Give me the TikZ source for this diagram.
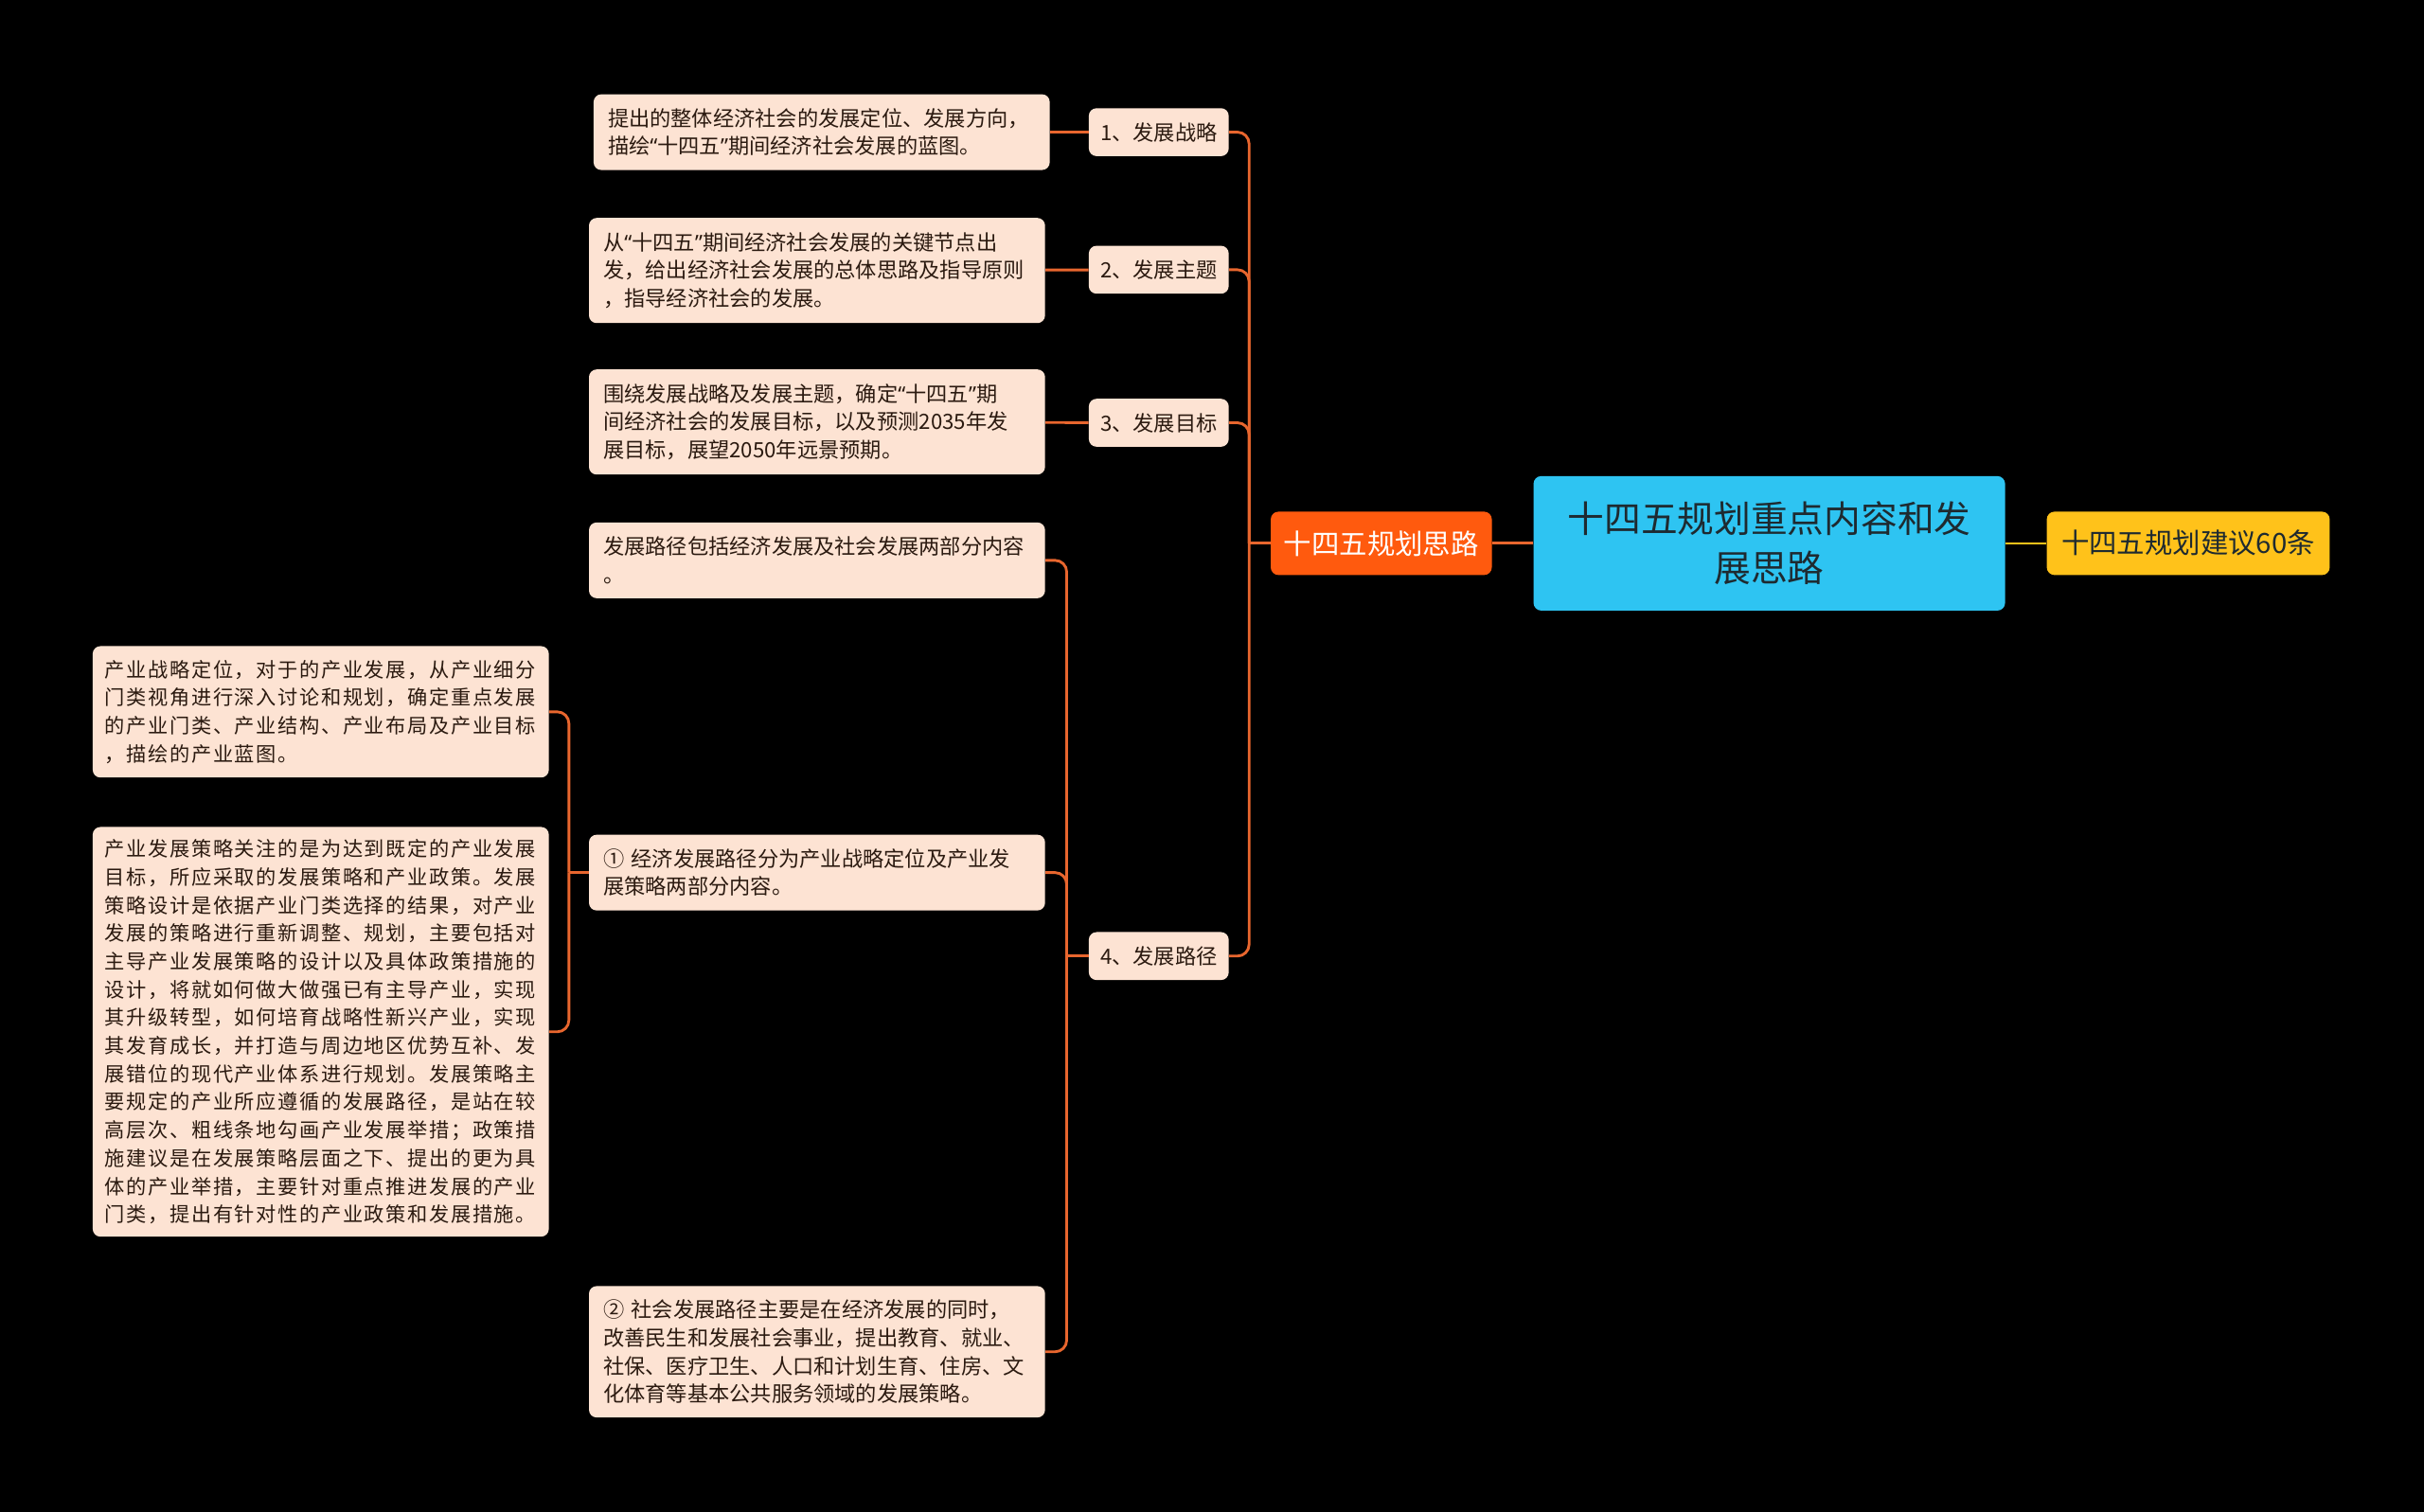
\documentclass[tikz,border=0pt]{standalone}
\usepackage{fontspec}
\setmainfont{Noto Sans CJK SC}
\newfontfamily\widecjk[LetterSpace=7.5]{Noto Sans CJK SC}
\newfontfamily\quotefont{Noto Sans}
\newcommand{\qopen}{{\quotefont “}}
\newcommand{\qclose}{{\quotefont ”}}
\usetikzlibrary{calc,positioning}
\definecolor{bgblack}{HTML}{000000}
\definecolor{peach}{HTML}{FDE3D3}
\definecolor{inkbrown}{HTML}{2B1A10}
\definecolor{linkorange}{HTML}{E8662E}
\definecolor{planorange}{HTML}{FF5A0E}
\definecolor{rootcyan}{HTML}{2EC4F2}
\definecolor{adviceyellow}{HTML}{FFC21A}
\definecolor{rootink}{HTML}{1E2A30}
\tikzset{%
    topic/.style={%
        rectangle, rounded corners=0.2cm, fill=peach, text=inkbrown, inner sep=0pt
    },
    detail/.style={%
        topic, align=left, font=\fontsize{15.5pt}{20.7pt}\selectfont, text width=11.06cm, minimum width=11.8cm
    },
    longdetail/.style={%
        topic, align=left, font=\widecjk\fontsize{14.8pt}{20.7pt}\selectfont, text width=11.16cm, minimum width=11.8cm
    },
    itemhead/.style={%
        topic, font=\fontsize{15.5pt}{18pt}\selectfont, minimum width=3.62cm, minimum height=1.24cm, anchor=east
    },
    mainhead/.style={%
        rectangle, rounded corners=0.2cm, inner sep=0pt, font=\fontsize{20.5pt}{24pt}\selectfont, minimum height=1.64cm
    },
    link/.style={%
        draw=linkorange, line width=2pt, rounded corners=0.3cm
    },
}
\begin{document}
\begin{tikzpicture}[x=0.04cm, y=-0.04cm]
    \fill[bgblack] (0,0) rectangle (1568,978);
    \useasboundingbox (0,0) rectangle (1568,978);

    \node[rectangle, rounded corners=0.2cm, fill=rootcyan, text=rootink, align=center, font=\fontsize{27pt}{36.4pt}\selectfont, minimum width=12.2cm, minimum height=3.48cm] (root) at (1144.5,351.5) {十四五规划重点内容和发\\展思路};
    \node[mainhead, fill=planorange, text=white, minimum width=5.72cm] (plan) at (893.5,351.5) {十四五规划思路};
    \node[mainhead, fill=adviceyellow, text=rootink, minimum width=7.32cm] (advice) at (1415.5,351.5) {十四五规划建议60条};

    \node[itemhead] (strategy) at (795,85.5) {1、发展战略};
    \node[itemhead] (theme) at (795,174.5) {2、发展主题};
    \node[itemhead] (goal) at (795,273.5) {3、发展目标};
    \node[itemhead] (path) at (795,618.5) {4、发展路径};

    \node[detail, minimum height=1.96cm] (strategytxt) at (531.5,85.5) {提出的整体经济社会的发展定位、发展方向，\\描绘\qopen 十四五\qclose 期间经济社会发展的蓝图。};
    \node[detail, minimum height=2.72cm] (themetxt) at (528.5,175) {从\qopen 十四五\qclose 期间经济社会发展的关键节点出\\发，给出经济社会发展的总体思路及指导原则\\，指导经济社会的发展。};
    \node[detail, minimum height=2.72cm] (goaltxt) at (528.5,273) {围绕发展战略及发展主题，确定\qopen 十四五\qclose 期\\间经济社会的发展目标，以及预测2035年发\\展目标，展望2050年远景预期。};
    \node[detail, minimum height=1.96cm] (routetxt) at (528.5,362.5) {发展路径包括经济发展及社会发展两部分内容\\。};
    \node[detail, minimum height=1.96cm] (econtxt) at (528.5,564.5) {① 经济发展路径分为产业战略定位及产业发\\展策略两部分内容。};
    \node[detail, minimum height=3.4cm] (socialtxt) at (528.5,874.5) {② 社会发展路径主要是在经济发展的同时，\\改善民生和发展社会事业，提出教育、就业、\\社保、医疗卫生、人口和计划生育、住房、文\\化体育等基本公共服务领域的发展策略。};

    \node[longdetail, minimum height=3.4cm] (industrytxt) at (207.5,460.5) {产业战略定位，对于的产业发展，从产业细分\\门类视角进行深入讨论和规划，确定重点发展\\的产业门类、产业结构、产业布局及产业目标\\，描绘的产业蓝图。};
    \node[longdetail, minimum height=10.6cm] (policytxt) at (207.5,667.5) {产业发展策略关注的是为达到既定的产业发展\\目标，所应采取的发展策略和产业政策。发展\\策略设计是依据产业门类选择的结果，对产业\\发展的策略进行重新调整、规划，主要包括对\\主导产业发展策略的设计以及具体政策措施的\\设计，将就如何做大做强已有主导产业，实现\\其升级转型，如何培育战略性新兴产业，实现\\其发育成长，并打造与周边地区优势互补、发\\展错位的现代产业体系进行规划。发展策略主\\要规定的产业所应遵循的发展路径，是站在较\\高层次、粗线条地勾画产业发展举措；政策措\\施建议是在发展策略层面之下、提出的更为具\\体的产业举措，主要针对重点推进发展的产业\\门类，提出有针对性的产业政策和发展措施。};

    \coordinate (trunk) at (808,351.5);
    \coordinate (pathtrunk) at (690,618.5);
    \coordinate (econtrunk) at (368,564.5);

    \draw[link] (root) -- (plan);
    \draw[link, draw=adviceyellow, line width=1.5pt] (root) -- (advice);
    \draw[link] (plan) -- (trunk);
    \foreach \n in {strategy,theme,goal,path}
      \draw[link] (\n.east) -| (trunk);
    \draw[link] (strategytxt) -- (strategy);
    \draw[link] (themetxt) -- (theme);
    \draw[link] (goaltxt) -- (goal);
    \draw[link] (path) -- (pathtrunk);
    \foreach \n in {routetxt,econtxt,socialtxt}
      \draw[link] (\n.east) -| (pathtrunk);
    \draw[link] (econtxt) -- (econtrunk);
    \foreach \n in {industrytxt,policytxt}
      \draw[link] (\n.east) -| (econtrunk);
\end{tikzpicture}
\end{document}
